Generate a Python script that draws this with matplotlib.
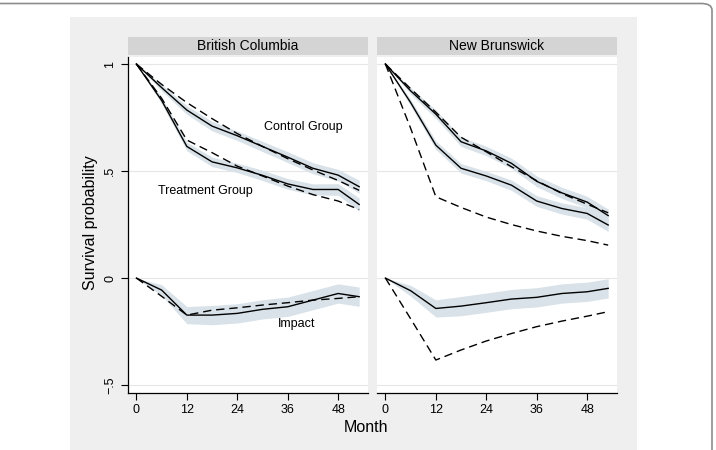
import matplotlib.pyplot as plt
import numpy as np
from matplotlib.patches import FancyBboxPatch, Rectangle

plt.rcParams["font.family"] = ["Liberation Sans", "DejaVu Sans"]

months = [0, 6, 12, 18, 24, 30, 36, 42, 48, 53]

# British Columbia
bc_control = [1, 0.89, 0.785, 0.71, 0.665, 0.615, 0.565, 0.513, 0.481, 0.427]
bc_control_sim = [1, 0.905, 0.82, 0.745, 0.675, 0.615, 0.558, 0.505, 0.456, 0.41]
bc_treat = [1, 0.83, 0.615, 0.543, 0.515, 0.48, 0.44, 0.414, 0.414, 0.344]
bc_treat_sim = [1, 0.84, 0.645, 0.586, 0.523, 0.477, 0.43, 0.39, 0.36, 0.32]
bc_impact = [0, -0.056, -0.173, -0.173, -0.165, -0.146, -0.134, -0.103, -0.072, -0.087]
bc_impact_sim = [0, -0.085, -0.173, -0.15, -0.139, -0.126, -0.115, -0.103, -0.095, -0.087]

# New Brunswick
nb_control = [1, 0.875, 0.766, 0.637, 0.594, 0.536, 0.452, 0.398, 0.355, 0.292]
nb_control_sim = [1, 0.885, 0.775, 0.658, 0.59, 0.52, 0.455, 0.395, 0.345, 0.305]
nb_treat = [1, 0.82, 0.621, 0.513, 0.477, 0.434, 0.36, 0.325, 0.302, 0.248]
nb_treat_sim = [1, 0.70, 0.38, 0.33, 0.285, 0.25, 0.22, 0.195, 0.175, 0.154]
nb_impact = [0, -0.059, -0.142, -0.131, -0.115, -0.098, -0.09, -0.072, -0.064, -0.048]
nb_impact_sim = [0, -0.19, -0.383, -0.336, -0.294, -0.259, -0.227, -0.201, -0.178, -0.157]

# confidence band half widths
ci_group = [0, 0.015, 0.02, 0.022, 0.022, 0.024, 0.025, 0.026, 0.027, 0.03]
ci_impact = [0, 0.025, 0.04, 0.045, 0.045, 0.045, 0.045, 0.045, 0.045, 0.045]

panels = ["British Columbia", "New Brunswick"]
x_ticks = [0, 12, 24, 36, 48]
y_ticks = [-0.5, 0, 0.5, 1]
y_ticklabels = ["\u2212.5", "0", ".5", "1"]

BAND = "#d8e2e8"
W, H = 716, 450

fig = plt.figure(figsize=(W / 100, H / 100), dpi=100)
fig.patch.set_facecolor("white")

# outer frame and grey plot region
fig.patches.append(FancyBboxPatch((-20 / W, -20 / H), 732 / W, 466.5 / H,
                                  boxstyle="round,pad=0,rounding_size=0.015",
                                  transform=fig.transFigure, fc="white", ec="#8c8c8c",
                                  lw=1.2, zorder=-3))
fig.patches.append(Rectangle((70 / W, 0), 567 / W, 1 - 17 / H, transform=fig.transFigure,
                             fc="#efefef", ec="none", zorder=-2))

data = [
    (bc_control, bc_control_sim, bc_treat, bc_treat_sim, bc_impact, bc_impact_sim),
    (nb_control, nb_control_sim, nb_treat, nb_treat_sim, nb_impact, nb_impact_sim),
]

m = np.array(months)
lefts = [128, 377]
for i, (name, series) in enumerate(zip(panels, data)):
    ctrl, ctrl_s, trt, trt_s, imp, imp_s = series
    ax = fig.add_axes([lefts[i] / W, 1 - 393 / H, 240 / W, 336 / H])
    ax.set_facecolor("white")
    for y in y_ticks:
        ax.axhline(y, color="#e6e6e6", lw=0.8, zorder=0)
    for vals, ci in [(ctrl, ci_group), (trt, ci_group), (imp, ci_impact)]:
        v = np.array(vals)
        c = np.array(ci)
        ax.fill_between(m, v - c, v + c, color=BAND, lw=0, zorder=1)
    for vals in (ctrl, trt, imp):
        ax.plot(m, vals, color="black", lw=1.0, zorder=3)
    for vals in (ctrl_s, trt_s, imp_s):
        ax.plot(m, vals, color="black", lw=1.0, ls=(0, (6, 3.5)), zorder=3)

    ax.set_xlim(-2, 55.1)
    ax.set_ylim(-0.537, 1.033)
    ax.set_xticks(x_ticks)
    ax.set_yticks(y_ticks)
    ax.set_yticklabels(y_ticklabels, rotation=90, va="center")
    ax.tick_params(axis="both", labelsize=9, length=5, width=0.8, color="black")
    ax.tick_params(axis="x", pad=3)
    for s in ("top", "right"):
        ax.spines[s].set_visible(False)
    ax.spines["bottom"].set_linewidth(0.9)
    ax.spines["left"].set_linewidth(0.9)
    if i == 1:
        ax.spines["left"].set_visible(False)
        ax.tick_params(axis="y", left=False, labelleft=False)

    # strip header
    sx = fig.add_axes([lefts[i] / W, 1 - 55 / H, 240 / W, 18 / H])
    sx.set_facecolor("#d4d4d4")
    sx.set_xticks([])
    sx.set_yticks([])
    for s in sx.spines.values():
        s.set_visible(False)
    sx.text(0.5, 0.5, name, ha="center", va="center", fontsize=10, transform=sx.transAxes)

    if i == 0:
        ax.text(39.6, 0.707, "Control Group", ha="center", va="center", fontsize=9)
        ax.text(16.4, 0.408, "Treatment Group", ha="center", va="center", fontsize=9)
        ax.text(38, -0.216, "Impact", ha="center", va="center", fontsize=9)

fig.text(90 / W, 1 - 223 / H, "Survival probability", rotation=90, ha="center", va="center",
         fontsize=11.5)
fig.text(366 / W, 1 - 427 / H, "Month", ha="center", va="center", fontsize=11.5)

fig.savefig("out.png", dpi=100)
